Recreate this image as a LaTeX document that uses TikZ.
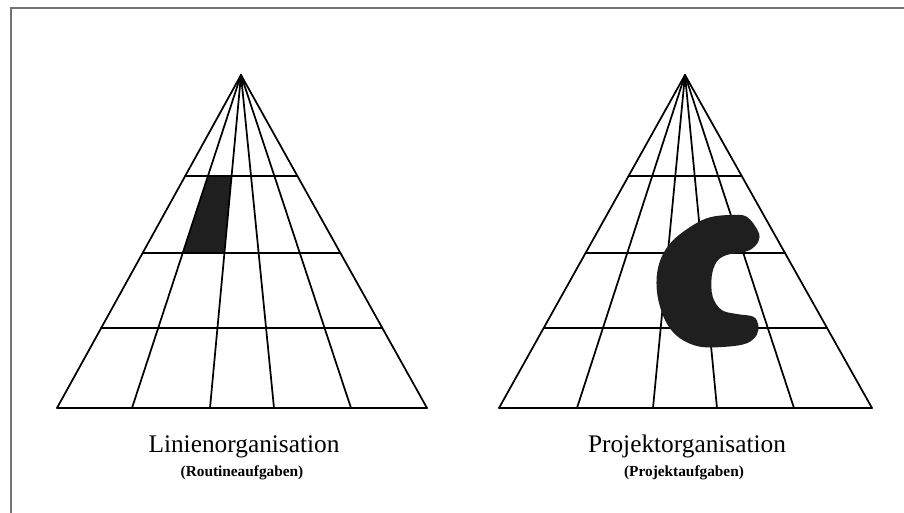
\documentclass[tikz,border=0pt]{standalone}
\usepackage{fontspec}
\setmainfont{Liberation Serif}
\usetikzlibrary{calc}
\begin{document}
\begin{tikzpicture}[x=0.75pt,y=-0.75pt,
  gridline/.style={line width=1.3pt,black,line cap=round,line join=round},
  frameline/.style={line width=1.5pt,black!55},
  cellfill/.style={fill=black!88},
  blobfill/.style={fill=black!88},
  title/.style={anchor=base,font=\fontsize{19}{22}\selectfont,inner sep=0pt},
  subtitle/.style={anchor=base,font=\fontsize{11.5}{13}\selectfont\bfseries,inner sep=0pt}]
\useasboundingbox (0,0) rectangle (904,513);
% frame (top and left edge visible)
\draw[frameline] (11,513) -- (11,8) -- (904,8);

% ---------- left pyramid ----------
\coordinate (LA) at (241,75);
\foreach \i/\x in {0/57,1/132,2/210,3/274,4/351,5/427}{
  \coordinate (LB\i) at (\x,408);
}
% shaded cell
\fill[cellfill] ($(LA)!0.3033!(LB1)$) -- ($(LA)!0.3033!(LB2)$) -- ($(LA)!0.5345!(LB2)$) -- ($(LA)!0.5345!(LB1)$) -- cycle;
\foreach \i in {0,...,5}{ \draw[gridline] (LA) -- (LB\i); }
\draw[gridline] (LB0) -- (LB5);
\foreach \t in {0.3033,0.5345,0.7598}{
  \draw[gridline] ($(LA)!\t!(LB0)$) -- ($(LA)!\t!(LB5)$);
}
\fill ($(LA)+(0,-1)$) -- ($(LA)!0.025!(LB0)$) -- ($(LA)!0.025!(LB5)$) -- cycle;

% ---------- right pyramid ----------
\coordinate (RA) at (685,75);
\foreach \i/\x in {0/499,1/577,2/653,3/717,4/794,5/872}{
  \coordinate (RB\i) at (\x,408);
}
\foreach \i in {0,...,5}{ \draw[gridline] (RA) -- (RB\i); }
\draw[gridline] (RB0) -- (RB5);
\foreach \t in {0.3033,0.5345,0.7598}{
  \draw[gridline] ($(RA)!\t!(RB0)$) -- ($(RA)!\t!(RB5)$);
}
\fill ($(RA)+(0,-1)$) -- ($(RA)!0.025!(RB0)$) -- ($(RA)!0.025!(RB5)$) -- cycle;
% C-shaped blob
\fill[blobfill] plot[smooth cycle,tension=0.6] coordinates {
  (730,215) (746.7,216.7) (758.3,231.7) (758.3,241.7) (750,250) (740,252.7)
  (726.7,255) (716.7,261.7) (711.7,276.7) (712.7,296.7) (721.7,310) (736.7,314)
  (753.3,316.7) (758.3,325) (756.7,335) (746.7,343.3) (726.7,346.7) (700,346.7)
  (680,338.3) (666.7,323.3) (658.3,300) (656.7,276.7) (661.7,256.7) (673.3,240)
  (693.3,225) (710,217.3)};

% ---------- captions ----------
\node[title]    (lt) at (244,453) {Linienorganisation};
\node[subtitle] (ls) at (242,477) {(Routineaufgaben)};
\node[title]    (rt) at (687,453) {Projektorganisation};
\node[subtitle] (rs) at (684,477) {(Projektaufgaben)};
\end{tikzpicture}
\end{document}
